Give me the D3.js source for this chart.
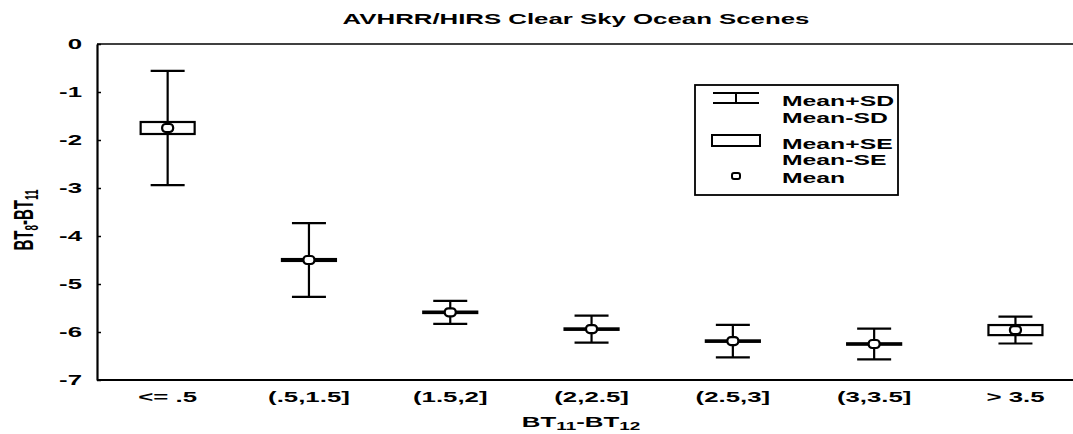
<!DOCTYPE html>
<html><head><meta charset="utf-8">
<script src="https://cdn.jsdelivr.net/npm/d3@7"></script>
<style>
html,body{margin:0;padding:0;background:#fff;}
svg{display:block;font-family:"Liberation Sans",Arial,sans-serif;}
</style></head>
<body><svg id="c" width="1073" height="434"></svg>
<script>
const categories = ["<= .5", "(.5,1.5]", "(1.5,2]", "(2,2.5]", "(2.5,3]", "(3,3.5]", "> 3.5"];
const means = [-1.75, -4.50, -5.59, -5.94, -6.19, -6.25, -5.96];
const sds   = [1.19, 0.77, 0.24, 0.28, 0.34, 0.32, 0.28];
const ses   = [0.125, 0.02, 0.015, 0.015, 0.015, 0.015, 0.105];
const yTicks = [0, -1, -2, -3, -4, -5, -6, -7];
const legendLabels = ["Mean+SD", "Mean-SD", "Mean+SE", "Mean-SE", "Mean"];

const svg = d3.select("#c");
const W = 1073;
const K = 1.72; // horizontal stretch of the lettering
const pLeft = 97, pTop = 44, pBottom = 380;
const x = d3.scaleBand().domain(categories).range([pLeft, pLeft + 7 * 141.3]);
const y = d3.scaleLinear().domain([-7, 0]).range([pBottom, pTop]);

function stext(parent, px, py, str, opts = {}) {
  const k = opts.k || K;
  const t = parent.append("text")
    .attr("transform", `translate(${px},${py}) scale(${k},1)`)
    .attr("text-anchor", opts.anchor || "start")
    .attr("font-size", opts.size || 15).attr("font-weight", "bold").attr("fill", "#000");
  if (str !== null) t.text(str);
  return t;
}

// frame
svg.append("line").attr("x1", pLeft).attr("x2", W).attr("y1", pTop).attr("y2", pTop)
  .attr("stroke", "#000").attr("stroke-width", 1.5);

const yAxis = svg.append("g").attr("transform", `translate(${pLeft},0)`)
  .call(d3.axisLeft(y).tickValues(yTicks).tickSizeInner(-4).tickSizeOuter(0).tickPadding(15).tickFormat(d => String(d)));
yAxis.select(".domain").attr("stroke-width", 2.2);
yAxis.selectAll(".tick line").attr("stroke-width", 1.5);
yAxis.selectAll(".tick text")
  .attr("font-size", 15).attr("font-weight", "bold").attr("fill", "#000")
  .attr("x", -15 / K).attr("transform", `scale(${K},1)`);

const xAxis = svg.append("g").attr("transform", `translate(0,${pBottom})`)
  .call(d3.axisBottom(x).tickSize(0));
xAxis.select(".domain").remove();
xAxis.selectAll(".tick text")
  .attr("font-size", 15).attr("font-weight", "bold").attr("fill", "#000")
  .attr("y", 22).attr("dy", 0).attr("transform", `scale(${K},1)`);
svg.append("line").attr("x1", pLeft).attr("x2", W).attr("y1", pBottom).attr("y2", pBottom)
  .attr("stroke", "#000").attr("stroke-width", 2);

// title
stext(svg, 576, 24, "AVHRR/HIRS Clear Sky Ocean Scenes", {anchor: "middle", size: 15});

// axis titles
const xt = stext(svg, 581, 427, null, {anchor: "middle", size: 15});
xt.append("tspan").text("BT");
xt.append("tspan").attr("font-size", 11).attr("dy", 3).text("11");
xt.append("tspan").attr("dy", -3).text("-BT");
xt.append("tspan").attr("font-size", 11).attr("dy", 3).text("12");

const yt = svg.append("text").attr("transform", "translate(33,220) rotate(-90) scale(1,1.8)")
  .attr("text-anchor", "middle").attr("font-size", 15).attr("font-weight", "bold");
yt.append("tspan").text("BT");
yt.append("tspan").attr("font-size", 10).attr("dy", 3).text("8");
yt.append("tspan").attr("dy", -3).text("-BT");
yt.append("tspan").attr("font-size", 10).attr("dy", 3).text("11");

// boxes
const capW = 34, boxW = 54;
const g = svg.append("g").attr("stroke", "#000").attr("stroke-width", 2.2).attr("fill", "none");
categories.forEach((c, i) => {
  const cx = x(c) + x.bandwidth() / 2;
  const m = means[i], sd = sds[i], se = ses[i];
  g.append("line").attr("x1", cx).attr("x2", cx).attr("y1", y(m + sd)).attr("y2", y(m - sd));
  g.append("line").attr("x1", cx - capW / 2).attr("x2", cx + capW / 2).attr("y1", y(m + sd)).attr("y2", y(m + sd));
  g.append("line").attr("x1", cx - capW / 2).attr("x2", cx + capW / 2).attr("y1", y(m - sd)).attr("y2", y(m - sd));
  const h = Math.max(0.01, y(m - se) - y(m + se));
  g.append("rect").attr("x", cx - boxW / 2).attr("y", y(m + se)).attr("width", boxW).attr("height", h)
    .attr("fill", "#fff");
  g.append("rect").attr("x", cx - 5.5).attr("y", y(m) - 4).attr("width", 11).attr("height", 8).attr("rx", 3.5)
    .attr("fill", "#fff");
});

// legend
const lg = svg.append("g");
lg.append("rect").attr("x", 695).attr("y", 85).attr("width", 203).attr("height", 110)
  .attr("fill", "#fff").attr("stroke", "#000").attr("stroke-width", 1.8);
const ls = lg.append("g").attr("stroke", "#000").attr("stroke-width", 2).attr("fill", "none");
ls.append("line").attr("x1", 713).attr("x2", 759).attr("y1", 93).attr("y2", 93);
ls.append("line").attr("x1", 736).attr("x2", 736).attr("y1", 93).attr("y2", 103);
ls.append("line").attr("x1", 713).attr("x2", 759).attr("y1", 103).attr("y2", 103);
ls.append("rect").attr("x", 712).attr("y", 135).attr("width", 48).attr("height", 11);
ls.append("rect").attr("x", 732).attr("y", 173).attr("width", 8).attr("height", 6).attr("rx", 2);
const ly = [106, 123, 149, 165, 183];
legendLabels.forEach((t, i) => {
  stext(lg, 782, ly[i], t, {k: 1.65, size: 15});
});
</script></body></html>
